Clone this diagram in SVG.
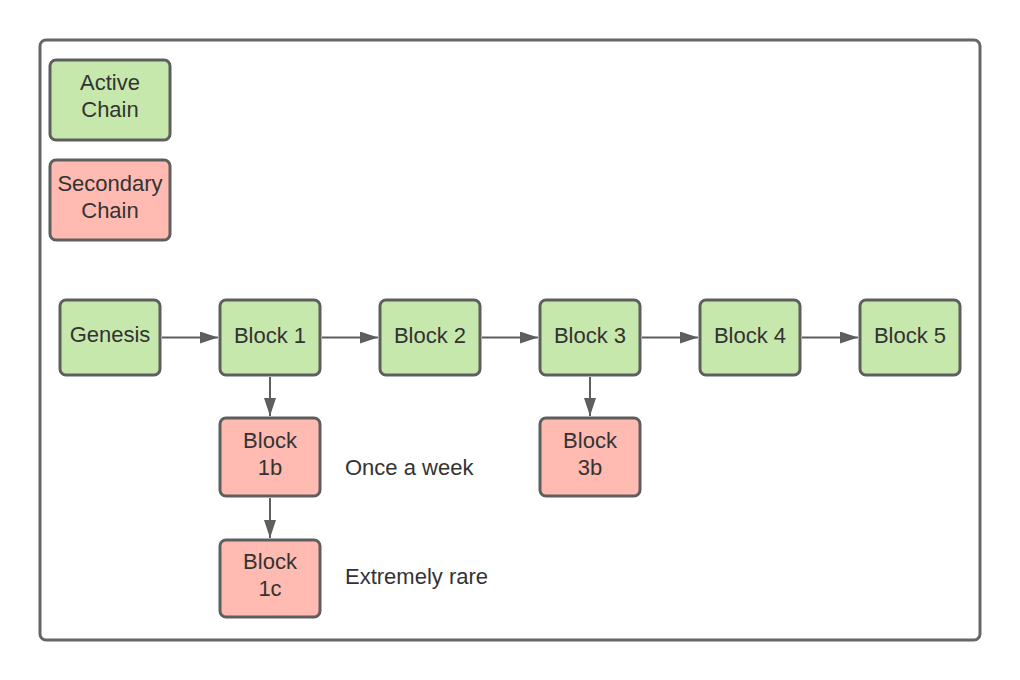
<svg xmlns="http://www.w3.org/2000/svg" width="1020" height="680" viewBox="0 0 1020 680">
<defs>
<style>
.frame{fill:#fff;stroke:#666;stroke-width:3}
.g{fill:#c7e8ac;stroke:#5e5e5e;stroke-width:3}
.r{fill:#ffbbb1;stroke:#5e5e5e;stroke-width:3}
text{font-family:"Liberation Sans",Arial,sans-serif;font-size:22px;fill:#333;text-anchor:middle}
.lbl{text-anchor:start}
.c{stroke:#5e5e5e;stroke-width:2;fill:none;marker-end:url(#ah)}
</style>
<marker id="ah" markerWidth="18" markerHeight="12" refX="18" refY="6" orient="auto" markerUnits="userSpaceOnUse">
<path d="M0,0 L18,6 L0,12 Z" fill="#5e5e5e"/>
</marker>
</defs>
<rect width="1020" height="680" fill="#fff"/>
<rect class="frame" x="40" y="40" width="940" height="600" rx="6"/>
<g id="legend-active"><rect class="g" x="50" y="60" width="120" height="80" rx="6"/><text x="110" y="90">Active</text><text x="110" y="116.5">Chain</text></g>
<g id="legend-secondary"><rect class="r" x="50" y="160" width="120" height="80" rx="6"/><text x="110" y="191">Secondary</text><text x="110" y="217.5">Chain</text></g>
<g id="genesis"><rect class="g" x="60" y="300" width="100" height="75" rx="6"/><text x="110" y="342">Genesis</text></g>
<g id="block1"><rect class="g" x="220" y="300" width="100" height="75" rx="6"/><text x="270" y="343">Block 1</text></g>
<g id="block2"><rect class="g" x="380" y="300" width="100" height="75" rx="6"/><text x="430" y="343">Block 2</text></g>
<g id="block3"><rect class="g" x="540" y="300" width="100" height="75" rx="6"/><text x="590" y="343">Block 3</text></g>
<g id="block4"><rect class="g" x="700" y="300" width="100" height="75" rx="6"/><text x="750" y="343">Block 4</text></g>
<g id="block5"><rect class="g" x="860" y="300" width="100" height="75" rx="6"/><text x="910" y="343">Block 5</text></g>
<g id="block1b"><rect class="r" x="220" y="418" width="100" height="78" rx="6"/><text x="270" y="448">Block</text><text x="270" y="474.5">1b</text></g>
<g id="block1c"><rect class="r" x="220" y="540" width="100" height="77" rx="6"/><text x="270" y="569">Block</text><text x="270" y="595.5">1c</text></g>
<g id="block3b"><rect class="r" x="540" y="418" width="100" height="78" rx="6"/><text x="590" y="448">Block</text><text x="590" y="474.5">3b</text></g>
<g id="label-once"><text class="lbl" x="345" y="475">Once a week</text></g>
<g id="label-rare"><text class="lbl" x="345" y="584">Extremely rare</text></g>
<g id="connectors">
<path class="c" d="M162,337.5 H218"/>
<path class="c" d="M322,337.5 H378"/>
<path class="c" d="M482,337.5 H538"/>
<path class="c" d="M642,337.5 H698"/>
<path class="c" d="M802,337.5 H858"/>
<path class="c" d="M270,377 V416"/>
<path class="c" d="M270,498 V538"/>
<path class="c" d="M590,377 V416"/>
</g>
</svg>
